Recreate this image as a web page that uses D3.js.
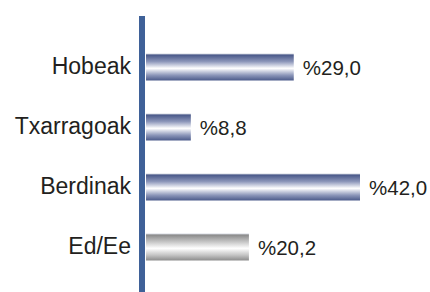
<!DOCTYPE html>
<html>
<head>
<meta charset="utf-8">
<script src="https://cdn.jsdelivr.net/npm/d3@7"></script>
<style>
  body { margin: 0; background: white; }
  text { font-family: Arial, "Liberation Sans", sans-serif; fill: #231f20; }
</style>
</head>
<body>
<svg id="chart" width="430" height="292"></svg>
<script>
    // data
    var labels = ["Hobeak", "Txarragoak", "Berdinak", "Ed/Ee"]
    var values = [29.0, 8.8, 42.0, 20.2]
    var valueText = ["%29,0", "%8,8", "%42,0", "%20,2"]
    var isGrey = [false, false, false, true]

    var svg = d3.select("#chart")

    var x = d3.scaleLinear().domain([0, 42]).range([146, 360])
    var y = d3.scaleBand().domain(labels).range([37, 277])
        .paddingInner(0.55).paddingOuter(0.275)

    // gradients for the tube look
    var defs = svg.append("defs")
    function makeGrad(id, dark, mid) {
        var g = defs.append("linearGradient").attr("id", id)
            .attr("x1", 0).attr("y1", 0).attr("x2", 0).attr("y2", 1)
        g.append("stop").attr("offset", "0%").attr("stop-color", "#d8dbe4")
        g.append("stop").attr("offset", "6%").attr("stop-color", dark)
        g.append("stop").attr("offset", "30%").attr("stop-color", mid)
        g.append("stop").attr("offset", "55%").attr("stop-color", "#ffffff")
        g.append("stop").attr("offset", "80%").attr("stop-color", mid)
        g.append("stop").attr("offset", "100%").attr("stop-color", dark)
    }
    makeGrad("blueGrad", "#4b5a8a", "#8d97ba")
    makeGrad("greyGrad", "#8c8c8c", "#c4c4c4")

    svg.selectAll("rect.bar")
        .data(values)
        .enter()
        .append("rect")
        .attr("class", "bar")
        .attr("x", x(0))
        .attr("y", (d, i) => y(labels[i]))
        .attr("width", d => x(d) - x(0))
        .attr("height", y.bandwidth())
        .attr("fill", (d, i) => isGrey[i] ? "url(#greyGrad)" : "url(#blueGrad)")

    // value labels
    svg.selectAll("text.val")
        .data(values)
        .enter()
        .append("text")
        .attr("class", "val")
        .attr("x", d => x(d) + 9)
        .attr("y", (d, i) => y(labels[i]) + y.bandwidth() / 2 + 1)
        .attr("dy", "0.35em")
        .style("font-size", "20.5px")
        .text((d, i) => valueText[i])

    // category axis
    var axis = d3.axisLeft(y).tickSize(0).tickPadding(8)
    var gAxis = svg.append("g")
        .attr("transform", "translate(139,0)")
        .call(axis)
    gAxis.select(".domain").remove()
    gAxis.selectAll("text")
        .style("font-size", "23px")
        .attr("fill", "#231f20")
        .attr("dy", "0.3em")

    svg.append("rect")
        .attr("x", 139)
        .attr("y", 16)
        .attr("width", 6)
        .attr("height", 276)
        .attr("fill", "#3f6198")
</script>
</body>
</html>
